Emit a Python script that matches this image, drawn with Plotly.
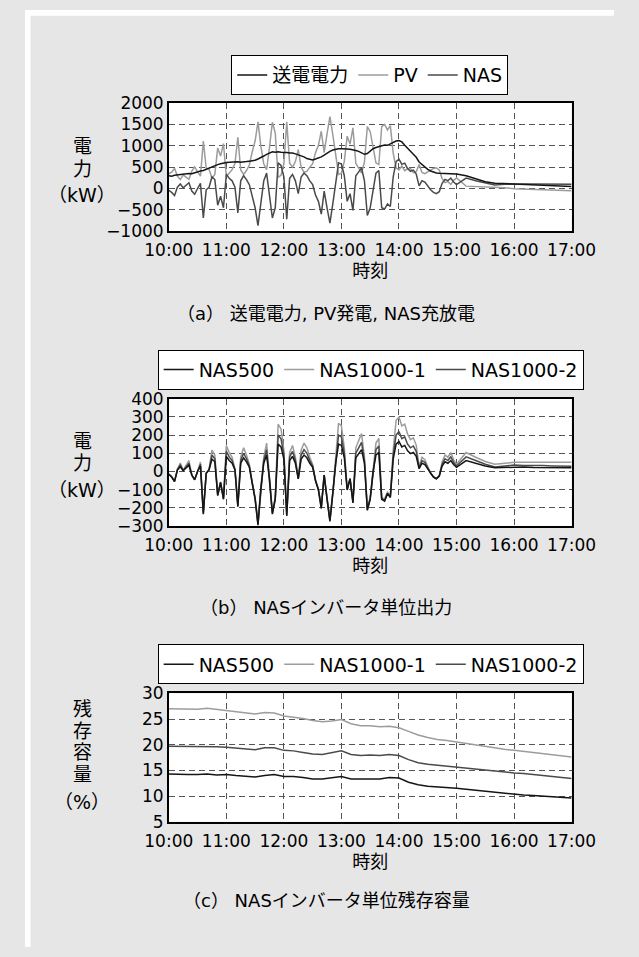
import plotly.graph_objects as go
import pandas as pd

# ---------------- data ----------------
MINUTES = list(range(0, 301, 3)) + list(range(310, 421, 10))
SOC_MINUTES = list(range(0, 421, 10))
BASE = pd.Timestamp("2000-01-01 10:00")
TIME = [BASE + pd.Timedelta(minutes=m) for m in MINUTES]
SOC_TIME = [BASE + pd.Timedelta(minutes=m) for m in SOC_MINUTES]

SOUDEN = [300, 290, 310, 320, 315, 335, 340, 350, 345, 370,
          390, 410, 420, 450, 480, 510, 540, 560, 580, 600,
          610, 615, 620, 620, 625, 615, 630, 630, 640, 650,
          660, 690, 720, 760, 800, 840, 860, 850, 860, 850,
          850, 840, 830, 830, 810, 790, 770, 740, 700, 680,
          670, 690, 710, 740, 780, 830, 870, 900, 920, 930,
          930, 935, 925, 920, 910, 890, 870, 840, 800, 820,
          880, 930, 960, 980, 1000, 1020, 1010, 1050, 1090, 1110,
          1120, 1090, 1010, 930, 870, 800, 730, 620, 560, 500,
          450, 410, 380, 365, 360, 355, 350, 345, 340, 345,
          340,
          300, 230, 160, 125, 115, 105, 95, 85, 75, 65, 55, 45]

PV = [345, 380, 475, 290, 210, 320, 265, 215, 405, 505,
      390, 290, 1110, 480, 450, 240, 330, 950, 760, 1050,
      280, 375, 440, 590, 1195, 435, 330, 420, 550, 860,
      1110, 1560, 990, 580, 440, 960, 1550, 1300, 260, 310,
      580, 1560, 590, 500, 630, 910, 500, 380, 400, 500,
      580, 840, 1010, 1340, 840, 1280, 1680, 1260, 740, 330,
      360, 635, 1225, 1040, 1420, 590, 480, 360, 620, 1450,
      1330, 930, 600, 560, 1450, 1500, 1370, 1470, 820, 480,
      435, 525, 417, 462, 467, 370, 392, 559, 377, 347,
      389, 440, 469, 484, 435, 233, 136, 162, 96, 192,
      248,
      56, 47, 35, 40, 18, -5, -13, -23, -29, -35, -45, -53]

NAS = [-45, -90, -165, 30, 105, 15, 75, 135, -60, -135,
       0, 120, -690, -30, 30, 270, 210, -390, -180, -450,
       330, 240, 180, 30, -570, 180, 300, 210, 90, -210,
       -450, -870, -270, 180, 360, -120, -690, -450, 600, 540,
       270, -720, 240, 330, 180, -120, 270, 360, 300, 180,
       90, -150, -300, -600, -60, -450, -810, -360, 180, 600,
       570, 300, -300, -120, -510, 300, 390, 480, 180, -630,
       -450, 0, 360, 420, -450, -480, -360, -420, 270, 630,
       685, 565, 593, 468, 403, 430, 338, 61, 183, 153,
       61, -30, -89, -119, -75, 122, 214, 183, 244, 153,
       92,
       244, 183, 125, 85, 97, 110, 108, 108, 104, 100, 100, 98]

NAS1000_1 = [-14, -28, -52, 13, 46, 7, 33, 59, -19, -43,
             0, 52, -220, -10, 13, 117, 91, -124, -57, -143,
             143, 104, 78, 13, -181, 78, 130, 91, 39, -67,
             -143, -276, -86, 78, 156, -38, -219, -143, 260, 234,
             117, -228, 104, 143, 78, -38, 117, 156, 130, 78,
             39, -48, -95, -190, -19, -143, -257, -114, 78, 265,
             250, 130, -95, -38, -162, 130, 169, 208, 78, -200,
             -143, 0, 156, 182, -143, -152, -114, -133, 117, 280,
             300, 250, 260, 205, 175, 185, 145, 26, 78, 65,
             26, -10, -28, -38, -24, 52, 91, 78, 104, 65,
             39,
             104, 78, 55, 40, 45, 50, 50, 52, 50, 50, 50, 50]

NAS1000_2 = [-15, -30, -55, 10, 35, 5, 25, 45, -20, -45,
             0, 40, -230, -10, 10, 90, 70, -130, -60, -150,
             110, 80, 60, 10, -190, 60, 100, 70, 30, -70,
             -150, -290, -90, 60, 120, -40, -230, -150, 200, 180,
             90, -240, 80, 110, 60, -40, 90, 120, 100, 60,
             30, -50, -100, -200, -20, -150, -270, -120, 60, 200,
             190, 100, -100, -40, -170, 100, 130, 160, 60, -210,
             -150, 0, 120, 140, -150, -160, -120, -140, 90, 200,
             220, 180, 190, 150, 130, 140, 110, 20, 60, 50,
             20, -10, -30, -40, -25, 40, 70, 60, 80, 50,
             30,
             80, 60, 40, 25, 30, 35, 33, 34, 32, 30, 30, 28]

NAS500 = [-15, -31, -56, 8, 26, 4, 19, 34, -20, -46,
          0, 30, -235, -10, 8, 68, 53, -133, -61, -153,
          83, 60, 45, 8, -194, 45, 75, 53, 23, -71,
          -153, -296, -92, 45, 90, -41, -235, -153, 150, 135,
          68, -245, 60, 83, 45, -41, 68, 90, 75, 45,
          23, -51, -102, -204, -20, -153, -275, -122, 45, 150,
          143, 75, -102, -41, -173, 75, 98, 120, 45, -214,
          -153, 0, 90, 105, -153, -163, -122, -143, 68, 150,
          165, 135, 143, 113, 98, 105, 83, 15, 45, 38,
          15, -10, -31, -41, -26, 30, 53, 45, 60, 38,
          23,
          60, 45, 30, 20, 22, 25, 25, 22, 22, 20, 20, 20]

SOC_NAS1000_1 = [27.0, 27.0, 26.9, 26.9, 27.1, 26.9, 26.7, 26.5, 26.3, 26.0,
                 26.3, 26.2, 25.6, 25.4, 25.1, 24.7, 24.5, 24.6, 24.9, 24.1,
                 23.7, 23.7, 23.5, 23.6, 23.3, 22.6, 21.9, 21.4, 21.0, 20.8,
                 20.5, 20.2, 19.9, 19.6, 19.4, 19.1, 18.9, 18.7, 18.5, 18.2,
                 18.0, 17.8, 17.6]
SOC_NAS1000_2 = [19.7, 19.7, 19.6, 19.6, 19.7, 19.6, 19.5, 19.3, 19.2, 19.0,
                 19.4, 19.4, 18.9, 18.8, 18.5, 18.2, 18.1, 18.4, 18.8, 18.1,
                 17.9, 18.0, 17.9, 18.1, 17.9, 17.1, 16.5, 16.2, 16.0, 15.9,
                 15.7, 15.5, 15.3, 15.1, 14.9, 14.7, 14.5, 14.4, 14.2, 14.0,
                 13.8, 13.6, 13.4]
SOC_NAS500 = [14.3, 14.2, 14.2, 14.2, 14.3, 14.1, 14.2, 14.0, 13.8, 13.7,
              14.0, 14.2, 13.8, 13.8, 13.6, 13.3, 13.3, 13.6, 13.8, 13.3,
              13.3, 13.4, 13.3, 13.6, 13.5, 12.7, 12.2, 11.9, 11.8, 11.7,
              11.5, 11.3, 11.1, 10.9, 10.7, 10.5, 10.3, 10.2, 10.1, 10.0,
              9.9, 9.7, 9.6]

X_TICKS = ["10:00", "11:00", "12:00", "13:00", "14:00", "15:00", "16:00", "17:00"]

# ---------------- style ----------------
W, H = 639, 957
BLACK = "#151515"
LIGHT = "#9c9c9c"
DARK = "#4a4a4a"
FONT = "DejaVu Sans, Noto Sans CJK JP, sans-serif"
TICK_SIZE = 17
GRID_DASH = "6px,4px"


def px(x):
    return x / W


def py(y):
    return 1 - y / H


fig = go.Figure()

# panel (a)
fig.add_trace(go.Scatter(x=TIME, y=PV, name="PV", mode="lines", line=dict(color=LIGHT, width=1.5),
                         xaxis="x", yaxis="y", legend="legend", legendrank=2))
fig.add_trace(go.Scatter(x=TIME, y=NAS, name="NAS", mode="lines", line=dict(color=DARK, width=1.5),
                         xaxis="x", yaxis="y", legend="legend", legendrank=3))
fig.add_trace(go.Scatter(x=TIME, y=SOUDEN, name="送電電力", mode="lines", line=dict(color=BLACK, width=1.5),
                         xaxis="x", yaxis="y", legend="legend", legendrank=1))
# panel (b)
fig.add_trace(go.Scatter(x=TIME, y=NAS1000_1, name="NAS1000-1", mode="lines", line=dict(color=LIGHT, width=1.5),
                         xaxis="x2", yaxis="y2", legend="legend2", legendrank=2))
fig.add_trace(go.Scatter(x=TIME, y=NAS1000_2, name="NAS1000-2", mode="lines", line=dict(color=DARK, width=1.5),
                         xaxis="x2", yaxis="y2", legend="legend2", legendrank=3))
fig.add_trace(go.Scatter(x=TIME, y=NAS500, name="NAS500", mode="lines", line=dict(color=BLACK, width=1.5),
                         xaxis="x2", yaxis="y2", legend="legend2", legendrank=1))
# panel (c)
fig.add_trace(go.Scatter(x=SOC_TIME, y=SOC_NAS500, name="NAS500", mode="lines", line=dict(color=BLACK, width=1.5),
                         xaxis="x3", yaxis="y3", legend="legend3", legendrank=1))
fig.add_trace(go.Scatter(x=SOC_TIME, y=SOC_NAS1000_1, name="NAS1000-1", mode="lines", line=dict(color=LIGHT, width=1.5),
                         xaxis="x3", yaxis="y3", legend="legend3", legendrank=2))
fig.add_trace(go.Scatter(x=SOC_TIME, y=SOC_NAS1000_2, name="NAS1000-2", mode="lines", line=dict(color=DARK, width=1.5),
                         xaxis="x3", yaxis="y3", legend="legend3", legendrank=3))

x_range = [BASE, BASE + pd.Timedelta(minutes=420)]
tickvals = [BASE + pd.Timedelta(hours=h) for h in range(8)]


def xaxis(anchor):
    return dict(domain=[px(156), px(593)], anchor=anchor, type="date", range=x_range,
                tickvals=tickvals, ticktext=X_TICKS, showgrid=True, griddash=GRID_DASH,
                gridcolor="#555555", gridwidth=1, showline=True, mirror=True,
                linecolor="black", linewidth=1.5, ticks="", zeroline=False,
                ticklabelstandoff=3,
                tickfont=dict(size=TICK_SIZE, color="black"),
                title=dict(text="時刻", font=dict(size=18, color="black"), standoff=4))


def yaxis(anchor, top, bottom, rng, dtick):
    return dict(domain=[py(bottom), py(top)], anchor=anchor, range=rng, dtick=dtick,
                tick0=rng[0], showgrid=True, griddash=GRID_DASH, gridcolor="#555555", gridwidth=1,
                showline=True, mirror=True, linecolor="black", linewidth=1.5, ticks="",
                zeroline=False, tickfont=dict(size=TICK_SIZE, color="black"))


leg_common = dict(orientation="h", xanchor="center", yanchor="top", bgcolor="white",
                  bordercolor="black", borderwidth=1, font=dict(size=19, color="black"),
                  itemwidth=30)

annotations = []


def ann(text, x, y, size=19):
    annotations.append(dict(text=text, x=px(x), y=py(y), xref="paper", yref="paper",
                            showarrow=False, xanchor="center", yanchor="middle",
                            font=dict(size=size, color="black")))


# y-axis titles
ann("電", 62, 139)
ann("力", 62, 162)
ann("（kW）", 62, 189)
ann("電", 62, 440)
ann("力", 62, 463)
ann("（kW）", 62, 490)
ann("残", 62, 714)
ann("存", 62, 736)
ann("容", 62, 758)
ann("量", 62, 780)
ann("（%）", 62, 809)
# captions
ann("（a） 送電電力, PV発電, NAS充放電", 327, 310, 18)
ann("（b） NASインバータ単位出力", 327, 610, 18)
ann("（c） NASインバータ単位残存容量", 327, 910, 18)

fig.update_layout(
    width=W, height=H, margin=dict(l=0, r=0, t=0, b=0),
    paper_bgcolor="#e6e6e6", plot_bgcolor="white",
    font=dict(family=FONT, color="black"),
    hovermode=False,
    xaxis=xaxis("y"), yaxis=yaxis("x", 95, 226, [-1000, 2000], 500),
    xaxis2=xaxis("y2"), yaxis2=yaxis("x2", 397, 527, [-300, 400], 100),
    xaxis3=xaxis("y3"), yaxis3=yaxis("x3", 698, 829, [5, 30], 5),
    legend=dict(x=px(374), y=py(46), **leg_common),
    legend2=dict(x=px(375), y=py(347), **leg_common),
    legend3=dict(x=px(375), y=py(648), **leg_common),
    annotations=annotations,
    shapes=[
        dict(type="rect", xref="paper", yref="paper", x0=0, x1=1, y0=py(6), y1=1,
             fillcolor="white", line=dict(width=0), layer="below"),
        dict(type="rect", xref="paper", yref="paper", x0=0, x1=px(6), y0=0, y1=1,
             fillcolor="white", line=dict(width=0), layer="below"),
    ],
)

fig.write_html("out.html",
               config={"displayModeBar": False},
               post_script="document.body.style.margin='0';document.body.style.overflow='hidden';")
